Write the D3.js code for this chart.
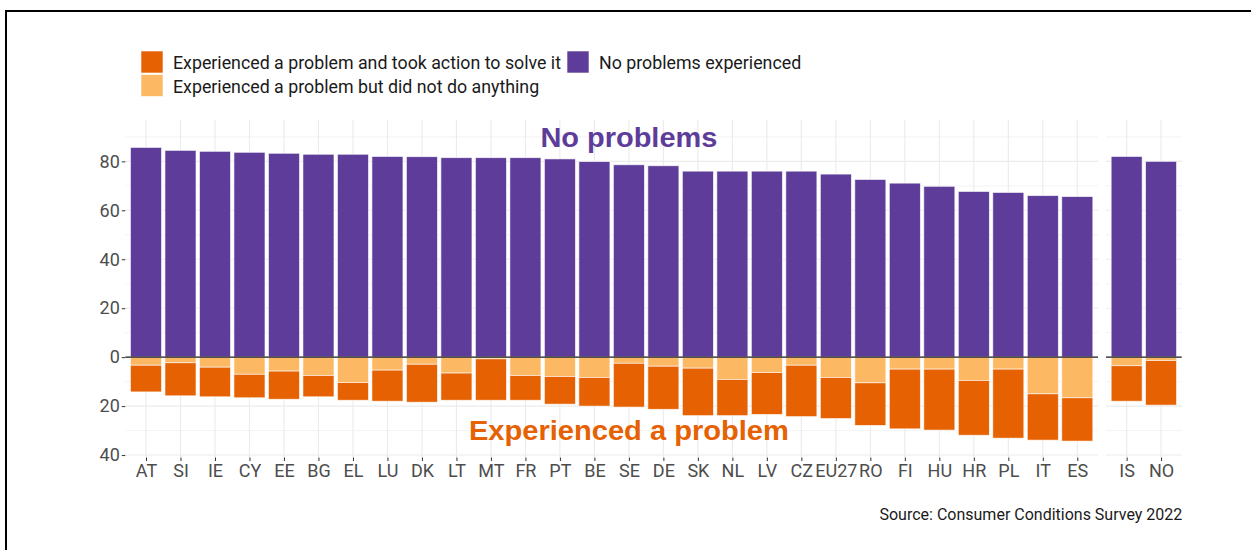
<!DOCTYPE html>
<html>
<head>
<meta charset="utf-8">
<script src="https://cdn.jsdelivr.net/npm/d3@7"></script>
<style>
  html, body { margin: 0; padding: 0; background: #fff; }
  svg { display: block; }
</style>
</head>
<body>
<svg id="chart" width="1251" height="550"></svg>
<script>
// ---------------- DATA ----------------
const countries = ["AT","SI","IE","CY","EE","BG","EL","LU","DK","LT","MT","FR","PT","BE","SE","DE","SK","NL","LV","CZ","EU27","RO","FI","HU","HR","PL","IT","ES","IS","NO"];
const panel     = ["EU","EU","EU","EU","EU","EU","EU","EU","EU","EU","EU","EU","EU","EU","EU","EU","EU","EU","EU","EU","EU","EU","EU","EU","EU","EU","EU","EU","EFTA","EFTA"];
const noProblems = [85.7,84.5,84.1,83.7,83.3,82.9,82.9,82.0,81.9,81.5,81.5,81.5,81.0,79.9,78.6,78.2,76.0,76.0,76.0,76.0,74.8,72.6,71.1,69.8,67.7,67.3,66.0,65.6,82.0,80.0];
const didNothing = [3.3,2.3,4.1,7.0,5.7,7.5,10.4,5.3,2.9,6.5,0.7,7.5,7.9,8.3,2.5,3.7,4.5,9.1,6.3,3.3,8.3,10.5,4.9,4.9,9.5,4.9,15.0,16.6,3.5,1.4];
const tookAction = [10.9,13.5,12.1,9.6,11.5,8.7,7.2,12.7,15.5,11.1,16.9,10.1,11.3,11.7,17.9,17.6,19.4,14.8,17.1,21.0,16.8,17.4,24.4,24.9,22.4,28.2,18.9,17.7,14.5,18.2];
const yMajorTicks = [-40,-20,0,20,40,60,80];
const yMinorTicks = [-30,-10,10,30,50,70,90];
const legendLabels = ["Experienced a problem and took action to solve it","Experienced a problem but did not do anything","No problems experienced"];
const annotationTop = "No problems";
const annotationBottom = "Experienced a problem";
const sourceText = "Source: Consumer Conditions Survey 2022";

// ---------------- STYLE ----------------
const C_PURPLE = "#5e3c99", C_ORANGE = "#e66101", C_LIGHT = "#fdb863";
const TICK_COL = "#4d4d4d", GRID_COL = "#ebebeb";

const svg = d3.select("#chart");

// frame (screenshot border)
svg.append("line").attr("x1", 6).attr("x2", 1251).attr("y1", 11).attr("y2", 11).attr("stroke", "#000").attr("stroke-width", 2);
svg.append("line").attr("x1", 6).attr("x2", 6).attr("y1", 10).attr("y2", 550).attr("stroke", "#000").attr("stroke-width", 2);

const rows = countries.map((c, i) => ({ c, p: panel[i], no: noProblems[i], dn: didNothing[i], ta: tookAction[i] }));

const panelTop = 120, panelBottom = 457.5;
const y = d3.scaleLinear().domain([-41.0, 96.9]).range([panelBottom, panelTop]);

const panels = [
  { key: "EU", x0: 125.3, x1: 1098 },
  { key: "EFTA", x0: 1106, x1: 1181.7 }
];

panels.forEach(pn => {
  const data = rows.filter(r => r.p === pn.key);
  const x = d3.scalePoint().domain(data.map(d => d.c)).range([pn.x0, pn.x1]).padding(0.6);
  const bw = x.step() * 0.9;
  pn.x = x;
  const g = svg.append("g");

  // grid
  g.selectAll(".ymin").data(yMinorTicks).join("line")
    .attr("x1", pn.x0).attr("x2", pn.x1).attr("y1", d => y(d)).attr("y2", d => y(d))
    .attr("stroke", GRID_COL).attr("stroke-width", 0.6);
  g.selectAll(".ymaj").data(yMajorTicks).join("line")
    .attr("x1", pn.x0).attr("x2", pn.x1).attr("y1", d => y(d)).attr("y2", d => y(d))
    .attr("stroke", GRID_COL).attr("stroke-width", 1.1);
  g.selectAll(".xg").data(data).join("line")
    .attr("x1", d => x(d.c)).attr("x2", d => x(d.c)).attr("y1", panelTop).attr("y2", panelBottom)
    .attr("stroke", GRID_COL).attr("stroke-width", 1.1);

  // bars
  const barStroke = sel => sel.attr("stroke", "#fff").attr("stroke-width", 0.8).attr("stroke-opacity", 0.75);
  g.selectAll(".bno").data(data).join("rect")
    .attr("x", d => x(d.c) - bw / 2).attr("width", bw)
    .attr("y", d => y(d.no)).attr("height", d => y(0) - y(d.no))
    .attr("fill", C_PURPLE).call(barStroke);
  g.selectAll(".bdn").data(data).join("rect")
    .attr("x", d => x(d.c) - bw / 2).attr("width", bw)
    .attr("y", y(0)).attr("height", d => y(-d.dn) - y(0))
    .attr("fill", C_LIGHT).call(barStroke);
  g.selectAll(".bta").data(data).join("rect")
    .attr("x", d => x(d.c) - bw / 2).attr("width", bw)
    .attr("y", d => y(-d.dn)).attr("height", d => y(-(d.dn + d.ta)) - y(-d.dn))
    .attr("fill", C_ORANGE).call(barStroke);

  // zero line
  g.append("line").attr("x1", pn.x0).attr("x2", pn.x1).attr("y1", y(0)).attr("y2", y(0))
    .attr("stroke", "#222").attr("stroke-width", 1.1);

  // x axis
  const xa = svg.append("g").attr("transform", `translate(0,${panelBottom})`)
    .call(d3.axisBottom(x).tickSize(3.5).tickPadding(3));
  xa.select(".domain").remove();
  xa.selectAll(".tick line").attr("stroke", "#333").attr("stroke-width", 1);
  xa.selectAll(".tick text").attr("fill", TICK_COL).attr("font-family", "Roboto").attr("font-size", 18)
    .attr("dy", "0.71em");
});

// y axis
const ya = svg.append("g").attr("transform", `translate(${panels[0].x0},0)`)
  .call(d3.axisLeft(y).tickValues(yMajorTicks).tickFormat(d => Math.abs(d)).tickSize(3.5).tickPadding(2));
ya.select(".domain").remove();
ya.selectAll(".tick line").attr("stroke", "#333").attr("stroke-width", 1);
ya.selectAll(".tick text").attr("fill", TICK_COL).attr("font-family", "Roboto").attr("font-size", 18);

// annotations
const xEU = panels[0].x;
svg.append("text").attr("x", xEU("SE")).attr("y", y(90)).attr("dy", "0.36em")
  .attr("text-anchor", "middle").attr("font-family", "Liberation Sans, Arial, sans-serif")
  .attr("font-weight", "bold").attr("font-size", 27).attr("fill", C_PURPLE)
  .text(annotationTop).attr("textLength", 177).attr("lengthAdjust", "spacingAndGlyphs");
svg.append("text").attr("x", xEU("SE")).attr("y", y(-30)).attr("dy", "0.36em")
  .attr("text-anchor", "middle").attr("font-family", "Liberation Sans, Arial, sans-serif")
  .attr("font-weight", "bold").attr("font-size", 27).attr("fill", C_ORANGE)
  .text(annotationBottom).attr("textLength", 320).attr("lengthAdjust", "spacingAndGlyphs");

// legend
const leg = svg.append("g").attr("font-family", "Roboto").attr("font-size", 17.8).attr("fill", "#1a1a1a");
const legItems = [
  { label: legendLabels[0], color: C_ORANGE, kx: 141, ky: 51 },
  { label: legendLabels[1], color: C_LIGHT, kx: 141, ky: 74.5 },
  { label: legendLabels[2], color: C_PURPLE, kx: 567, ky: 51 }
];
legItems.forEach(it => {
  leg.append("rect").attr("x", it.kx).attr("y", it.ky).attr("width", 22).attr("height", 22)
    .attr("fill", it.color).attr("stroke", "#fff").attr("stroke-width", 0.8).attr("stroke-opacity", 0.75);
  leg.append("text").attr("x", it.kx + 32).attr("y", it.ky + 18.3).text(it.label);
});

// source
svg.append("text").attr("x", 1182.3).attr("y", 520).attr("text-anchor", "end")
  .attr("font-family", "Roboto").attr("font-size", 16).attr("fill", "#1a1a1a")
  .text(sourceText);
</script>
</body>
</html>
